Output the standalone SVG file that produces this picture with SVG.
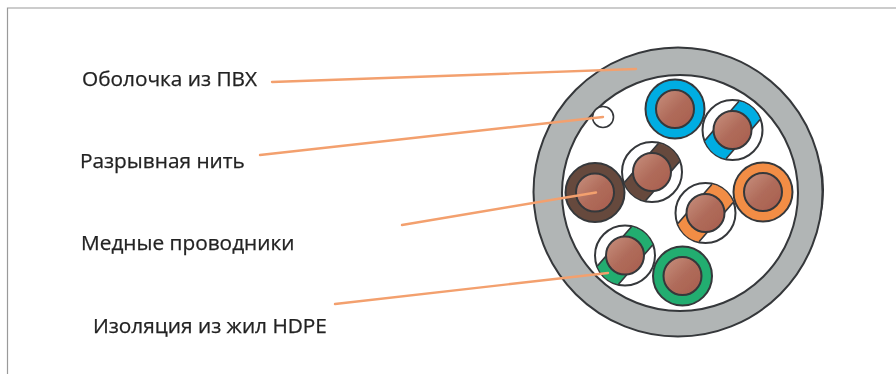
<svg xmlns="http://www.w3.org/2000/svg" width="896" height="374" viewBox="0 0 896 374">
<style>
.label{font-family:"Open Sans","Noto Sans","Liberation Sans",sans-serif;font-size:20.8px;fill:#222;stroke:#222;stroke-width:.25}
.ring{stroke:#35373a;stroke-width:2}
.core{fill:url(#copper);stroke:#35373a;stroke-width:2}
.leader{fill:none;stroke:#f3a06e;stroke-width:2.4;stroke-linecap:round}
.frame{fill:none;stroke:#9a9a9a;stroke-width:1.2}
</style>
<defs>
<linearGradient id="copper" x1="0.1" y1="0.1" x2="0.9" y2="0.9">
<stop offset="0" stop-color="#c48a78"/><stop offset="0.5" stop-color="#b06c5b"/><stop offset="1" stop-color="#a9604f"/>
</linearGradient>
<filter id="soft" x="-5%" y="-5%" width="110%" height="110%"><feGaussianBlur stdDeviation="0.6"/></filter>
<g id="solid">
<circle class="ring" r="29.5"/><circle class="core" r="19"/>
</g>
<g id="striped">
<circle cx="0" cy="0" r="30" fill="#fff" stroke="#35373a" stroke-width="2"/>
<g transform="rotate(41)">
<path fill-opacity="1" d="M-14-26A29.500 29.500 0 0 1 14-26V-8H-14Z"/>
<path fill-opacity="1" d="M-14 26A29.500 29.500 0 0 0 14 26V8H-14Z"/>
<path fill="none" stroke="#35373a" stroke-width="1.600" d="M-14-8V-26M14-8V-26M-14 8V26M14 8V26"/>
</g>
<circle class="core" r="19"/>
</g>
</defs>
<rect width="896" height="374" fill="#fff"/>
<g filter="url(#soft)">
<path id="frame" class="frame" d="M7.500 374V8H896"/>
<g id="cable-jacket">
<path d="M821 163Q827 190 821 217Z" fill="#2c2e31"/>
<circle cx="678" cy="192" r="144.500" fill="#b1b5b5" stroke="#35373a" stroke-width="2"/>
<circle cx="680" cy="193" r="118" fill="#fff" stroke="#35373a" stroke-width="2"/>
</g>
<g id="ripcord"><circle cx="603" cy="117" r="10.500" fill="#fff" stroke="#35373a" stroke-width="1.600"/></g>
<g id="wire-blue" fill="#00ade2"><use href="#solid" x="675" y="109"/></g>
<g id="wire-blue-white" fill="#00ade2"><use href="#striped" x="732.500" y="130"/></g>
<g id="wire-brown" fill="#664a3c"><use href="#solid" x="595" y="192.500"/></g>
<g id="wire-brown-white" fill="#664a3c"><use href="#striped" x="652" y="172"/></g>
<g id="wire-orange" fill="#f28d45"><use href="#solid" x="763" y="192"/></g>
<g id="wire-orange-white" fill="#f28d45"><use href="#striped" x="705.500" y="213"/></g>
<g id="wire-green-white" fill="#22ad6f"><use href="#striped" x="625" y="255.500"/></g>
<g id="wire-green" fill="#22ad6f"><use href="#solid" x="682.500" y="276"/></g>
<g id="connectors">
<path class="leader" d="M272 82L636 69"/>
<path class="leader" d="M260 155L603 117"/>
<path class="leader" d="M402 225L596 192.500"/>
<path class="leader" d="M335 304L608 273"/>
</g>
<g id="label-jacket"><text class="label" x="82" y="85.500">Оболочка из ПВХ</text></g>
<g id="label-ripcord"><text class="label" x="80" y="168">Разрывная нить</text></g>
<g id="label-copper"><text class="label" x="81" y="250">Медные проводники</text></g>
<g id="label-insulation"><text class="label" x="93" y="333">Изоляция из жил HDPE</text></g>
</g>
</svg>
